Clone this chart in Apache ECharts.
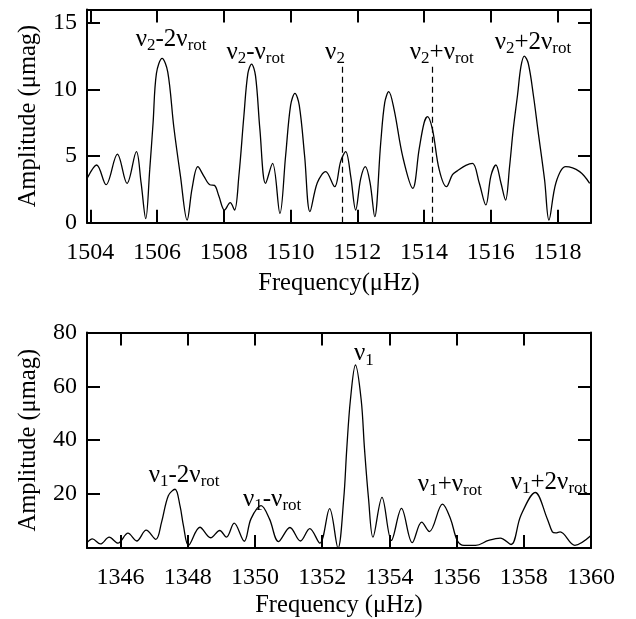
<!DOCTYPE html>
<html>
<head>
<meta charset="utf-8">
<script src="https://cdn.jsdelivr.net/npm/echarts@6/dist/echarts.min.js"></script>
<style>html,body{margin:0;padding:0;background:#fff;}#c{width:636px;height:619px;}</style>
</head>
<body>
<div id="c"></div>
<script>
// ---- Top panel data (nu_2 region) ----
const freqTop = [1503.92,1504.19,1504.47,1504.81,1505.10,1505.38,1505.52,1505.66,1505.78,1505.88,1505.98,1506.15,1506.32,1506.50,1506.70,1506.90,1507.05,1507.22,1507.40,1507.58,1507.72,1507.85,1508.02,1508.19,1508.32,1508.45,1508.60,1508.72,1508.83,1508.95,1509.08,1509.25,1509.46,1509.68,1509.85,1510.00,1510.13,1510.26,1510.42,1510.58,1510.80,1511.05,1511.32,1511.50,1511.65,1511.80,1511.95,1512.10,1512.24,1512.38,1512.52,1512.70,1512.82,1512.94,1513.10,1513.36,1513.66,1513.85,1514.00,1514.10,1514.25,1514.45,1514.67,1514.85,1515.00,1515.25,1515.45,1515.65,1515.85,1516.00,1516.15,1516.30,1516.44,1516.56,1516.67,1516.80,1516.90,1517.00,1517.12,1517.28,1517.41,1517.61,1517.74,1517.95,1518.24,1518.66,1518.96];
const ampTop  = [3.4,4.33,2.85,5.15,2.95,5.33,3.0,0.3,4.0,7.5,11.2,12.33,11.3,7.2,3.5,0.2,2.6,4.2,3.5,2.85,2.8,2.0,0.95,1.5,0.95,3.5,8.0,11.2,11.9,11.0,7.0,2.95,4.45,0.7,5.0,8.8,9.7,8.8,5.0,0.83,3.0,3.83,2.7,4.6,5.33,3.5,0.95,3.3,4.2,3.0,0.45,6.0,9.0,9.83,8.5,4.95,2.58,5.5,7.5,7.95,7.0,4.0,2.7,3.6,3.9,4.3,4.45,3.0,1.33,3.5,4.33,3.0,1.7,4.2,7.0,9.6,11.7,12.5,11.96,9.45,6.95,3.2,0.2,3.0,4.2,3.83,2.95];
const topTicksX = [1504,1506,1508,1510,1512,1514,1516,1518];
const topTicksY = [0,5,10,15];
const dashFreqs = [1511.55, 1514.24];
const dashHeight = 12;
const topLabels = ['{n|ν}{s|2}{n|-2ν}{s|rot}','{n|ν}{s|2}{n|-ν}{s|rot}','{n|ν}{s|2}','{n|ν}{s|2}{n|+ν}{s|rot}','{n|ν}{s|2}{n|+2ν}{s|rot}'];
const topLabelX = [1506.42,1508.95,1511.33,1514.53,1517.26];
const topLabelY = [13.78,12.8,12.8,12.8,13.55];

// ---- Bottom panel data (nu_1 region) ----
const freqBot = [1345.00,1345.16,1345.40,1345.66,1345.92,1346.22,1346.48,1346.76,1347.05,1347.22,1347.42,1347.62,1347.77,1347.87,1348.02,1348.36,1348.68,1348.95,1349.15,1349.38,1349.68,1349.88,1350.18,1350.43,1350.70,1351.04,1351.35,1351.63,1351.93,1352.22,1352.47,1352.64,1352.73,1352.84,1352.99,1353.16,1353.26,1353.38,1353.51,1353.78,1354.06,1354.36,1354.68,1354.96,1355.19,1355.58,1355.82,1356.02,1356.22,1356.57,1356.95,1357.30,1357.62,1357.91,1358.34,1358.70,1358.85,1358.95,1359.08,1359.52,1360.00];
const ampBot  = [2.0,3.4,1.5,4.0,1.8,5.5,2.6,6.6,3.2,9.6,19.4,21.8,15.5,8.3,1.0,7.7,3.8,6.5,4.0,9.2,2.5,10.8,15.7,10.8,2.4,7.6,2.6,7.2,1.8,14.6,0.0,18.2,36.6,55.0,67.9,55.0,36.6,18.2,4.0,18.8,2.8,14.7,2.0,9.6,6.1,16.3,10.8,2.8,1.0,1.0,2.8,3.7,1.3,12.0,20.6,10.8,6.0,5.6,6.0,1.0,4.6];
const botTicksX = [1346,1348,1350,1352,1354,1356,1358,1360];
const botTicksY = [20,40,60,80];
const botLabels = ['{n|ν}{s|1}{n|-2ν}{s|rot}','{n|ν}{s|1}{n|-ν}{s|rot}','{n|ν}{s|1}','{n|ν}{s|1}{n|+ν}{s|rot}','{n|ν}{s|1}{n|+2ν}{s|rot}'];
const botLabelX = [1347.89,1350.51,1353.24,1355.80,1358.75];
const botLabelY = [27.0,18.2,72.1,23.7,24.5];

const FONT = 'Liberation Serif';
const rich = {
  n: {fontFamily: FONT, fontSize: 25, color: '#000', lineHeight: 30, verticalAlign: 'middle'},
  s: {fontFamily: FONT, fontSize: 17, color: '#000', lineHeight: 17, verticalAlign: 'bottom'}
};
const zip = (a, b) => a.map((v, i) => [v, b[i]]);
const plain = v => String(v);

function xAxes(grid, min, max, ticks, name, gap) {
  const base = {
    gridIndex: grid, type: 'value', min: min, max: max,
    splitLine: {show: false},
    axisLine: {show: true, onZero: false, lineStyle: {color: '#000', width: 2}},
    axisTick: {show: true, inside: true, length: 13, customValues: ticks, lineStyle: {color: '#000', width: 2}}
  };
  return [
    Object.assign({}, base, {position: 'bottom',
      axisLabel: {show: true, customValues: ticks, formatter: plain, fontFamily: FONT, fontSize: 24, color: '#000', margin: 18},
      name: name, nameLocation: 'middle', nameGap: gap,
      nameTextStyle: {fontFamily: FONT, fontSize: 24.5, color: '#000'}}),
    Object.assign({}, base, {position: 'top', axisLabel: {show: false}})
  ];
}
function yAxes(grid, min, max, ticks, labels, name, gap) {
  const base = {
    gridIndex: grid, type: 'value', min: min, max: max,
    splitLine: {show: false},
    axisLine: {show: true, onZero: false, lineStyle: {color: '#000', width: 2}},
    axisTick: {show: true, inside: true, length: 13, customValues: ticks, lineStyle: {color: '#000', width: 2}}
  };
  return [
    Object.assign({}, base, {position: 'left',
      axisLabel: {show: true, customValues: labels, formatter: plain, fontFamily: FONT, fontSize: 24, color: '#000', margin: 10},
      name: name, nameLocation: 'middle', nameGap: gap, nameRotate: 90,
      nameTextStyle: {fontFamily: FONT, fontSize: 24.5, color: '#000'}}),
    Object.assign({}, base, {position: 'right', axisLabel: {show: false}})
  ];
}

const chart = echarts.init(document.getElementById('c'), null, {renderer: 'canvas'});
chart.setOption({
  animation: false,
  backgroundColor: '#fff',
  grid: [
    {left: 87, right: 45, top: 9.4, height: 213.3},
    {left: 87, right: 45, top: 332.4, height: 216.9}
  ],
  xAxis: [].concat(
    xAxes(0, 1503.9, 1519, topTicksX, 'Frequency(μHz)', 48),
    xAxes(1, 1345, 1360, botTicksX, 'Frequency (μHz)', 45)
  ),
  yAxis: [].concat(
    yAxes(0, 0, 16, topTicksY.slice(1), topTicksY, 'Amplitude (μmag)', 46),
    yAxes(1, 0, 80, botTicksY.slice(0, 3), botTicksY, 'Amplitude (μmag)', 46)
  ),
  series: [
    {
      type: 'line', xAxisIndex: 0, yAxisIndex: 0, data: zip(freqTop, ampTop),
      showSymbol: false, smooth: 0.35, clip: true,
      lineStyle: {color: '#000', width: 1.3},
      markLine: {
        silent: true, symbol: 'none', label: {show: false},
        lineStyle: {color: '#000', width: 1.2, type: [6, 4]},
        data: dashFreqs.map(f => [{coord: [f, 0]}, {coord: [f, dashHeight]}])
      }
    },
    {
      type: 'scatter', xAxisIndex: 0, yAxisIndex: 0, symbolSize: 0.1,
      itemStyle: {color: 'transparent'},
      data: topLabelX.map((x, i) => ({value: [x, topLabelY[i]], label: {formatter: topLabels[i]}})),
      label: {show: true, position: 'inside', color: '#000', opacity: 1, textBorderWidth: 0, rich: rich}
    },
    {
      type: 'line', xAxisIndex: 2, yAxisIndex: 2, data: zip(freqBot, ampBot),
      showSymbol: false, smooth: 0.35, clip: true,
      lineStyle: {color: '#000', width: 1.3}
    },
    {
      type: 'scatter', xAxisIndex: 2, yAxisIndex: 2, symbolSize: 0.1,
      itemStyle: {color: 'transparent'},
      data: botLabelX.map((x, i) => ({value: [x, botLabelY[i]], label: {formatter: botLabels[i]}})),
      label: {show: true, position: 'inside', color: '#000', opacity: 1, textBorderWidth: 0, rich: rich}
    }
  ]
});
</script>
</body>
</html>
